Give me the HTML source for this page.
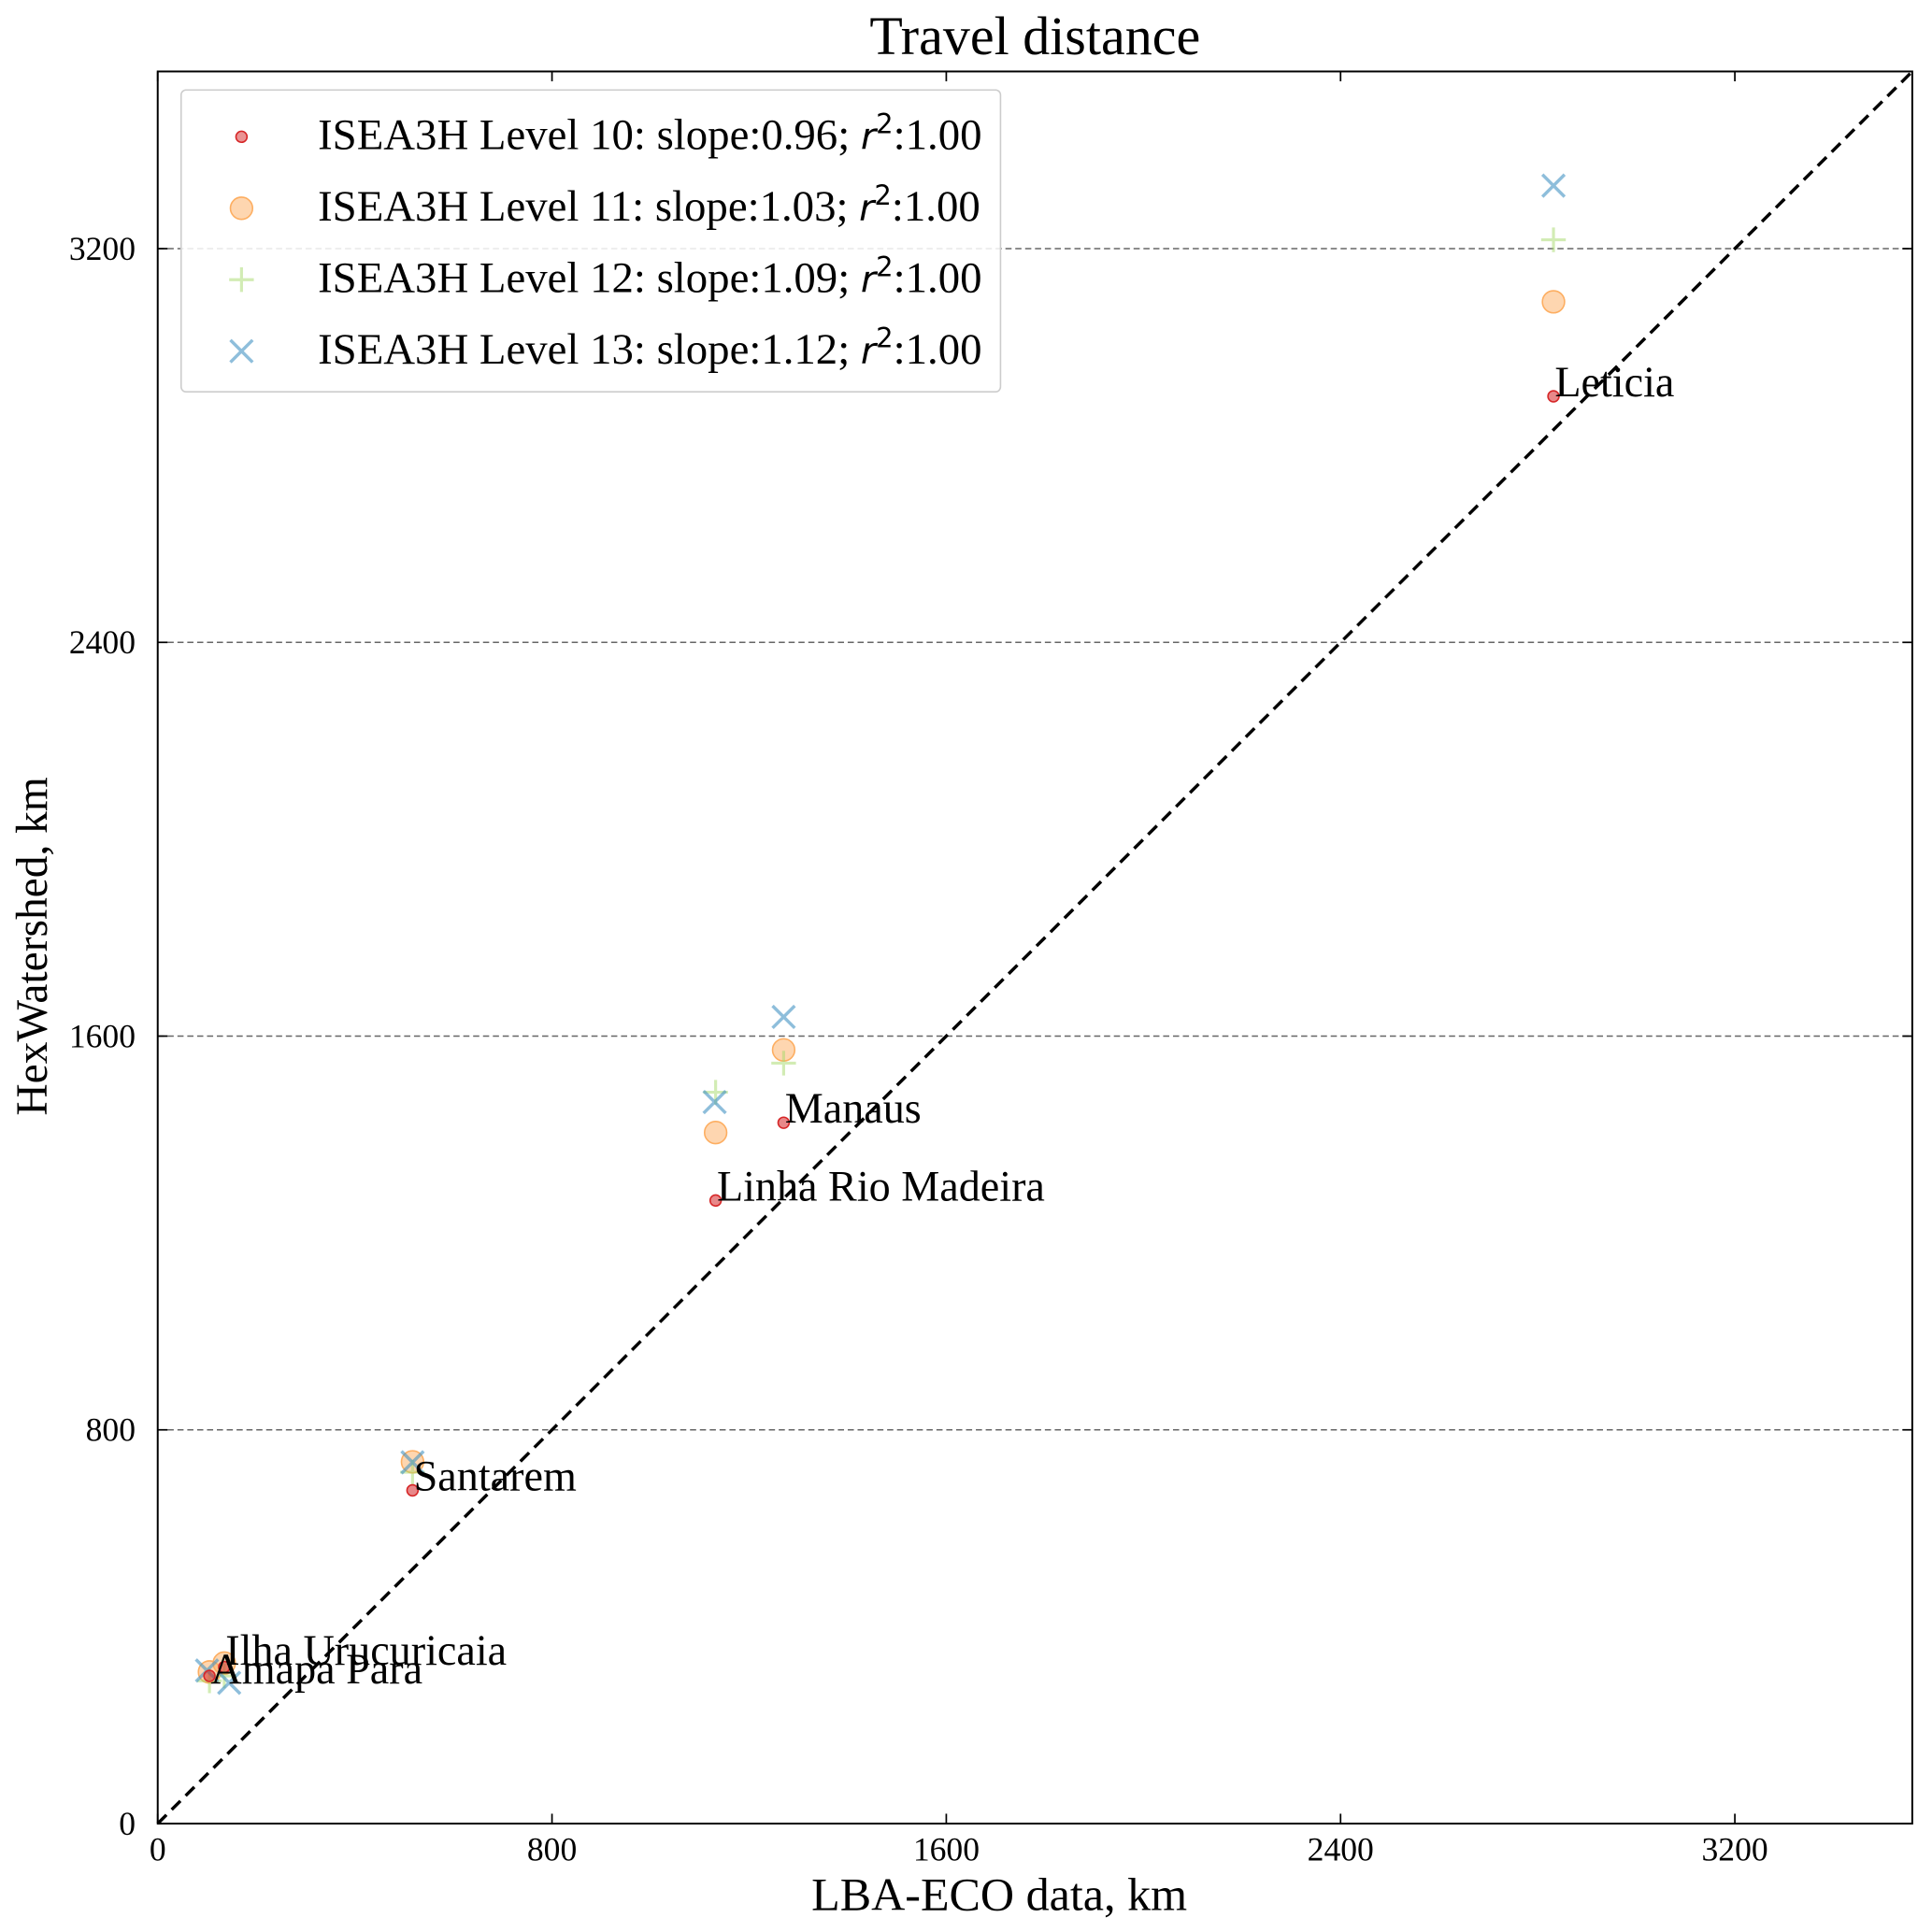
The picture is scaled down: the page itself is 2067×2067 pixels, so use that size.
<!DOCTYPE html>
<html><head><meta charset="utf-8"><style>
html,body{margin:0;padding:0;background:#fff}
svg{display:block;font-family:"Liberation Serif",serif}
</style></head><body>
<svg id="chart" width="2067" height="2067" viewBox="0 0 1568 1568" xmlns="http://www.w3.org/2000/svg">
<rect width="1568" height="1568" fill="#fff"/>
<text x="840" y="44" font-size="44" text-anchor="middle">Travel distance</text>
<g id="grid"></g>
<line id="diag" stroke="#000" stroke-width="2.6" stroke-dasharray="10,6"/>
<g id="marks"></g>
<g id="labels"></g>
<rect x="128" y="58" width="1424" height="1422" fill="none" stroke="#000" stroke-width="1.5"/>
<g id="ticks"></g>
<text x="811" y="1550" font-size="38" text-anchor="middle">LBA-ECO data, km</text>
<text transform="translate(38,768) rotate(-90)" font-size="36" text-anchor="middle">HexWatershed, km</text>
<g>
<rect x="147" y="73" width="665" height="245" rx="4" fill="#fff" fill-opacity="0.85" stroke="#ccc" stroke-width="1.2"/>
<circle cx="196" cy="111" r="4.5" fill="#d62728" fill-opacity="0.5" stroke="#d62728" stroke-width="1.2"/>
<text x="258" y="121" font-size="35.5">ISEA3H Level 10: slope:0.96; <tspan font-style="italic" font-family="DejaVu Sans" font-size="30">r</tspan><tspan font-family="DejaVu Sans" font-size="22" dy="-13">2</tspan><tspan dy="13">:1.00</tspan></text>
<circle cx="196" cy="169" r="9" fill="#fdae61" fill-opacity="0.5" stroke="#fdae61" stroke-width="1.2"/>
<text x="258" y="179" font-size="35.5">ISEA3H Level 11: slope:1.03; <tspan font-style="italic" font-family="DejaVu Sans" font-size="30">r</tspan><tspan font-family="DejaVu Sans" font-size="22" dy="-13">2</tspan><tspan dy="13">:1.00</tspan></text>
<path d="M186 227h20M196 217v20" stroke="#a6d96a" stroke-opacity="0.5" stroke-width="2.4"/>
<text x="258" y="237" font-size="35.5">ISEA3H Level 12: slope:1.09; <tspan font-style="italic" font-family="DejaVu Sans" font-size="30">r</tspan><tspan font-family="DejaVu Sans" font-size="22" dy="-13">2</tspan><tspan dy="13">:1.00</tspan></text>
<path d="M187 276l18 18M205 276l-18 18" stroke="#4393c3" stroke-opacity="0.6" stroke-width="2.6"/>
<text x="258" y="295" font-size="35.5">ISEA3H Level 13: slope:1.12; <tspan font-style="italic" font-family="DejaVu Sans" font-size="30">r</tspan><tspan font-family="DejaVu Sans" font-size="22" dy="-13">2</tspan><tspan dy="13">:1.00</tspan></text>
</g>
</svg>
<script>
const stations = ["Leticia","Manaus","Linha Rio Madeira","Santarem","Amapa Para","Ilha Urucuricaia"];
const lbaX = [2832, 1270, 1132, 517, 105, 135];
const lvl10 = [2900, 1424, 1266, 677, 300, 318];
const lvl11 = [3092, 1572, 1404, 735, 308, 326];
const lvl12 = [3218, 1545, 1486, 714, 290, 300];
const lvl13 = [3328, 1639, 1466, 734, 311, 286];
const lvl13X = [2832, 1270, 1130, 517, 100, 145];
const xTicks = [0, 800, 1600, 2400, 3200];
const yTicks = [0, 800, 1600, 2400, 3200];
const AX_MAX = 3560;
const NS = "http://www.w3.org/2000/svg";
const sx = v => 128 + v / AX_MAX * 1424;
const sy = v => 1480 - v / AX_MAX * 1422;
function mk(tag, attrs, parent){const e=document.createElementNS(NS,tag);for(const k in attrs)e.setAttribute(k,attrs[k]);parent.appendChild(e);return e;}
const grid=document.getElementById('grid'),marks=document.getElementById('marks'),labels=document.getElementById('labels'),ticks=document.getElementById('ticks');
const diag=document.getElementById('diag');
diag.setAttribute('x1',sx(0));diag.setAttribute('y1',sy(0));diag.setAttribute('x2',sx(AX_MAX));diag.setAttribute('y2',sy(AX_MAX));
yTicks.forEach(t=>{
  if(t>0){const g=mk('line',{x1:128,x2:1552,y1:sy(t),y2:sy(t),stroke:'#666','stroke-width':1.2,'stroke-dasharray':'5,3'},grid);
  
  }
  const a=mk('line',{x1:128,x2:136,y1:sy(t),y2:sy(t),stroke:'#000','stroke-width':1.3},ticks);
  
  
  const b=mk('line',{x1:1544,x2:1552,y1:sy(t),y2:sy(t),stroke:'#000','stroke-width':1.3},ticks);
  
  
  const l=mk('text',{x:110,y:sy(t)+9,'font-size':27,'text-anchor':'end'},ticks);l.textContent=t;
  
  
});
xTicks.forEach(t=>{
  const a=mk('line',{x1:sx(t),x2:sx(t),y1:1472,y2:1480,stroke:'#000','stroke-width':1.3},ticks);
  
  
  const b=mk('line',{x1:sx(t),x2:sx(t),y1:58,y2:66,stroke:'#000','stroke-width':1.3},ticks);
  
  
  const l=mk('text',{x:sx(t),y:1510,'font-size':27,'text-anchor':'middle'},ticks);l.textContent=t;
  
  
});
lbaX.forEach((x,i)=>{
  const c=mk('circle',{cx:sx(x),cy:sy(lvl11[i]),r:9,fill:'#fdae61','fill-opacity':0.5,stroke:'#fdae61','stroke-width':1.2},marks);
  
  
});
lbaX.forEach((x,i)=>{
  const X=sx(x),Y=sy(lvl12[i]);
  const p=mk('path',{d:`M${X-10} ${Y}h20M${X} ${Y-10}v20`,stroke:'#a6d96a','stroke-opacity':0.5,'stroke-width':2.4},marks);
  
  
});
lvl13X.forEach((x,i)=>{
  const X=sx(x),Y=sy(lvl13[i]);
  const p=mk('path',{d:`M${X-9} ${Y-9}l18 18M${X+9} ${Y-9}l-18 18`,stroke:'#4393c3','stroke-opacity':0.6,'stroke-width':2.6},marks);
  
  
});
lbaX.forEach((x,i)=>{
  const c=mk('circle',{cx:sx(x),cy:sy(lvl10[i]),r:4.5,fill:'#d62728','fill-opacity':0.55,stroke:'#d62728','stroke-width':1.2},marks);
  
  
  const t=mk('text',{x:sx(x)+1,y:sy(lvl10[i])+(i>=4?(i==4?6:-2):0),'font-size':35},labels);
  t.textContent=stations[i];
  
  
});
</script>
</body></html>
